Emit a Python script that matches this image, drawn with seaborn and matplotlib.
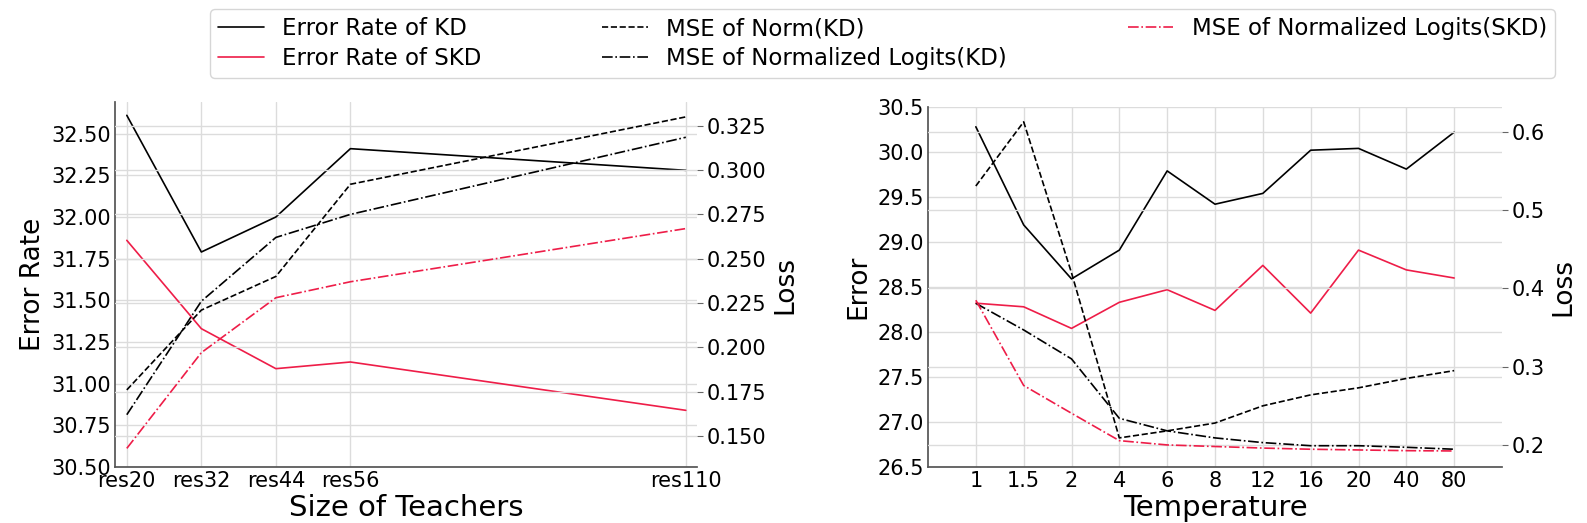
import numpy as np
import pandas as pd
import matplotlib
matplotlib.use('Agg')
import matplotlib.pyplot as plt
import seaborn as sns

# left panel: size of teachers
teachers = ['res20', 'res32', 'res44', 'res56', 'res110']
teacher_depth = [20, 32, 44, 56, 110]
err_kd_t = [32.61, 31.79, 32.00, 32.41, 32.28]
err_skd_t = [31.86, 31.33, 31.09, 31.13, 30.84]
mse_norm_kd_t = [0.176, 0.221, 0.240, 0.292, 0.330]
mse_logits_kd_t = [0.162, 0.226, 0.262, 0.275, 0.3185]
mse_logits_skd_t = [0.143, 0.197, 0.228, 0.237, 0.267]

# right panel: temperature
temps = ['1', '1.5', '2', '4', '6', '8', '12', '16', '20', '40', '80']
err_kd_T = [30.28, 29.19, 28.59, 28.91, 29.79, 29.42, 29.54, 30.02, 30.04, 29.81, 30.22]
err_skd_T = [28.32, 28.28, 28.04, 28.33, 28.47, 28.24, 28.74, 28.21, 28.91, 28.69, 28.60]
mse_norm_kd_T = [0.531, 0.613, 0.420, 0.209, 0.218, 0.228, 0.250, 0.264, 0.273, 0.285, 0.295]
mse_logits_kd_T = [0.381, 0.347, 0.310, 0.234, 0.218, 0.209, 0.203, 0.199, 0.199, 0.197, 0.1945]
mse_logits_skd_T = [0.385, 0.276, 0.2405, 0.2055, 0.200, 0.198, 0.196, 0.1945, 0.1936, 0.1927, 0.1923]

RED = '#ee1d48'
LW = 1.2

sns.set_theme(style='whitegrid')
plt.rcParams['font.family'] = ['DejaVu Sans']
plt.rcParams['grid.color'] = '#dcdcdc'
plt.rcParams['grid.linewidth'] = 1.0
plt.rcParams['text.color'] = 'black'
plt.rcParams['axes.labelcolor'] = 'black'
plt.rcParams['xtick.color'] = 'black'
plt.rcParams['ytick.color'] = 'black'

W, H = 1587, 523
fig = plt.figure(figsize=(W / 100, H / 100), dpi=100)

ax1 = fig.add_axes([115 / W, 1 - 467 / H, 582 / W, 365 / H])
ax3 = fig.add_axes([928 / W, 1 - 467 / H, 574 / W, 360 / H])
ax2 = ax1.twinx()
ax4 = ax3.twinx()

# left
sns.lineplot(x=teacher_depth, y=err_kd_t, ax=ax1, color='black', lw=LW, label='Error Rate of KD', legend=False)
sns.lineplot(x=teacher_depth, y=err_skd_t, ax=ax1, color=RED, lw=LW, label='Error Rate of SKD', legend=False)
sns.lineplot(x=teacher_depth, y=mse_norm_kd_t, ax=ax2, color='black', lw=LW, ls='--', label='MSE of Norm(KD)', legend=False)
sns.lineplot(x=teacher_depth, y=mse_logits_kd_t, ax=ax2, color='black', lw=LW, ls='-.', label='MSE of Normalized Logits(KD)', legend=False)
sns.lineplot(x=teacher_depth, y=mse_logits_skd_t, ax=ax2, color=RED, lw=LW, ls='-.', label='MSE of Normalized Logits(SKD)', legend=False)

ax1.set_xlim(18.1, 111.8)
ax1.set_xticks(teacher_depth)
ax1.set_xticklabels(teachers)
ax1.set_ylim(30.5, 32.69)
ax1.set_yticks(np.arange(30.5, 32.51, 0.25))
ax1.yaxis.set_major_formatter(matplotlib.ticker.FormatStrFormatter('%.2f'))
ax2.set_ylim(0.1325, 0.3384)
ax2.set_yticks(np.arange(0.15, 0.326, 0.025))
ax2.yaxis.set_major_formatter(matplotlib.ticker.FormatStrFormatter('%.3f'))
ax1.set_xlabel('Size of Teachers', fontsize=21, labelpad=2)
ax1.set_ylabel('Error Rate', fontsize=19)
ax2.set_ylabel('Loss', fontsize=19)

# right
pos = np.arange(len(temps))
sns.lineplot(x=pos, y=err_kd_T, ax=ax3, color='black', lw=LW)
sns.lineplot(x=pos, y=err_skd_T, ax=ax3, color=RED, lw=LW)
sns.lineplot(x=pos, y=mse_norm_kd_T, ax=ax4, color='black', lw=LW, ls='--')
sns.lineplot(x=pos, y=mse_logits_kd_T, ax=ax4, color='black', lw=LW, ls='-.')
sns.lineplot(x=pos, y=mse_logits_skd_T, ax=ax4, color=RED, lw=LW, ls='-.')

ax3.set_xlim(-1, 11)
ax3.set_xticks(pos)
ax3.set_xticklabels(temps)
ax3.set_ylim(26.5, 30.5)
ax3.set_yticks(np.arange(26.5, 30.51, 0.5))
ax3.yaxis.set_major_formatter(matplotlib.ticker.FormatStrFormatter('%.1f'))
ax4.set_ylim(0.1718, 0.632)
ax4.set_yticks([0.2, 0.3, 0.4, 0.5, 0.6])
ax4.yaxis.set_major_formatter(matplotlib.ticker.FormatStrFormatter('%.1f'))
ax3.set_xlabel('Temperature', fontsize=21, labelpad=2)
ax3.set_ylabel('Error', fontsize=19)
ax4.set_ylabel('Loss', fontsize=19)

for a in (ax1, ax2, ax3, ax4):
    a.tick_params(labelsize=15, pad=3, labelcolor='black')
    for s in a.spines.values():
        s.set_visible(False)
for a in (ax1, ax3):
    a.spines['left'].set_visible(True)
    a.spines['bottom'].set_visible(True)
    a.spines['left'].set_color('#555555')
    a.spines['bottom'].set_color('#555555')
    a.tick_params(length=0)
for a in (ax2, ax4):
    a.tick_params(axis='y', right=True, length=4, width=0.8, color='#666666')
    a.grid(axis='x', visible=False)

h1, l1 = ax1.get_legend_handles_labels()
h2, l2 = ax2.get_legend_handles_labels()
fig.legend(h1 + h2, l1 + l2, loc='lower left', ncol=3, mode='expand',
           bbox_to_anchor=(210 / W, 1 - 78 / H, 1345 / W, 66 / H), borderaxespad=0,
           fontsize=16.5, frameon=True, edgecolor='#cccccc', fancybox=True,
           labelspacing=0.3, handlelength=2.0, borderpad=0.35)

fig.savefig('out.png', dpi=100)
